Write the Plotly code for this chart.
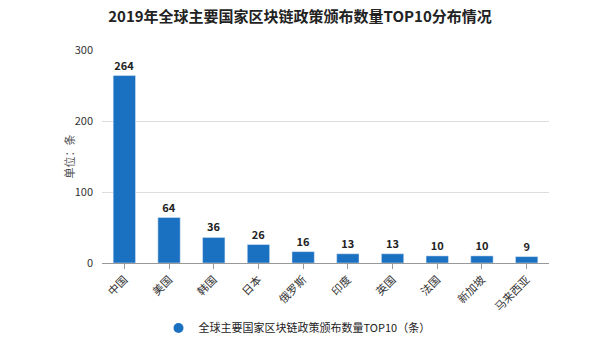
import plotly.graph_objects as go

countries = ["中国", "美国", "韩国", "日本", "俄罗斯", "印度", "英国", "法国", "新加坡", "马来西亚"]
policy_counts = [264, 64, 36, 26, 16, 13, 13, 10, 10, 9]
series_name = "全球主要国家区块链政策颁布数量TOP10（条）"
y_ticks = [0, 100, 200, 300]

font_family = "Noto Sans CJK SC, Noto Sans, sans-serif"
bar_color = "#1a70c1"

fig = go.Figure()
fig.add_trace(go.Bar(
    x=countries,
    y=policy_counts,
    name=series_name,
    showlegend=False,
    marker=dict(color=bar_color),
    text=[str(v) for v in policy_counts],
    textposition="outside",
    textfont=dict(size=11, color="#222222", family=font_family, weight="bold"),
    cliponaxis=False,
))
# round legend key for the series
fig.add_trace(go.Scatter(
    x=[None], y=[None], mode="markers", name=series_name,
    marker=dict(symbol="circle", size=10, color=bar_color),
    showlegend=True,
))

fig.update_layout(
    width=600,
    height=341,
    margin=dict(l=102, r=51, t=50, b=78, autoexpand=False),
    paper_bgcolor="white",
    plot_bgcolor="white",
    bargap=0.5,
    font=dict(family=font_family, size=11, color="#333333"),
    title=dict(
        text="<b>2019年全球主要国家区块链政策颁布数量TOP10分布情况</b>",
        x=0.5, xanchor="center", y=0.952, yanchor="middle",
        font=dict(size=15, color="#222222", family=font_family),
    ),
    showlegend=True,
    legend=dict(
        orientation="h", xref="container", yref="container",
        x=0.495, xanchor="center", y=0.038, yanchor="middle",
        font=dict(size=11, color="#222222"),
        itemwidth=30,
    ),
    xaxis=dict(
        tickangle=-45,
        automargin=False,
        showline=True, linecolor="#999999", linewidth=1,
        ticks="outside", ticklen=5, tickcolor="#999999",
        tickfont=dict(size=11, color="#333333"),
        showgrid=False,
    ),
    yaxis=dict(
        range=[0, 300],
        tickvals=y_ticks,
        automargin=False,
        showgrid=True, gridcolor="#dddddd", gridwidth=1,
        zeroline=False,
        tickfont=dict(size=11, color="#333333"),
        ticks="", ticklabelstandoff=8,
    ),
    annotations=[dict(
        text="单位：条", textangle=-90,
        xref="paper", yref="paper", x=-0.076, y=0.5,
        xanchor="center", yanchor="middle", showarrow=False,
        font=dict(size=11, color="#555555"),
    )],
)

fig.write_html("out.html")
